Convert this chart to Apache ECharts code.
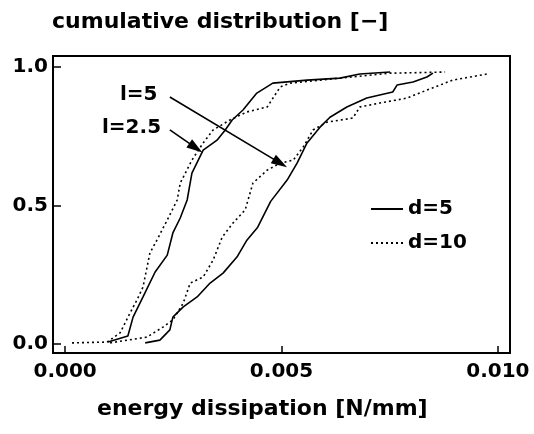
<!DOCTYPE html>
<html>
<head>
<meta charset="utf-8">
<script src="https://cdn.jsdelivr.net/npm/echarts@6/dist/echarts.min.js"></script>
<style>
  html, body { margin: 0; padding: 0; background: #fff; }
  #chart { width: 534px; height: 434px; }
</style>
</head>
<body>
<div id="chart"></div>
<script>
// cumulative distributions, [energy, fraction]
const l25_d5 = [[0.00099,0.007],[0.00145,0.029],[0.00157,0.097],[0.0018,0.170],[0.00208,0.260],[0.00236,0.321],[0.00249,0.401],[0.00266,0.455],[0.00282,0.520],[0.00293,0.617],[0.00319,0.700],[0.00351,0.736],[0.00370,0.773],[0.00386,0.809],[0.00411,0.845],[0.00443,0.906],[0.0048,0.942],[0.00559,0.953],[0.00635,0.960],[0.00681,0.975],[0.00751,0.982]]
const l25_d10 = [[0.00016,0.004],[0.00097,0.007],[0.00127,0.040],[0.0015,0.112],[0.00166,0.159],[0.0018,0.206],[0.00196,0.329],[0.00212,0.375],[0.00236,0.448],[0.00259,0.520],[0.00266,0.581],[0.00293,0.664],[0.00319,0.726],[0.00342,0.773],[0.00381,0.809],[0.0042,0.838],[0.00467,0.856],[0.00497,0.928],[0.0052,0.942],[0.00635,0.960],[0.00751,0.978],[0.00878,0.982]]
const l5_d5 = [[0.00185,0.004],[0.00219,0.014],[0.00242,0.051],[0.00249,0.097],[0.00273,0.134],[0.00305,0.170],[0.00335,0.220],[0.00365,0.256],[0.00397,0.314],[0.0042,0.375],[0.00445,0.422],[0.00475,0.515],[0.00513,0.592],[0.00536,0.653],[0.00559,0.726],[0.00589,0.783],[0.00612,0.819],[0.00651,0.856],[0.00697,0.888],[0.00757,0.910],[0.00767,0.935],[0.00804,0.946],[0.00836,0.964],[0.0085,0.978]]
const l5_d10 = [[0.00104,0.004],[0.00189,0.025],[0.00226,0.061],[0.00249,0.087],[0.00273,0.148],[0.00289,0.220],[0.00319,0.242],[0.00342,0.303],[0.00363,0.386],[0.00388,0.437],[0.00416,0.484],[0.00434,0.581],[0.00467,0.628],[0.00497,0.653],[0.00527,0.664],[0.0055,0.711],[0.00573,0.773],[0.00605,0.801],[0.00665,0.816],[0.00681,0.856],[0.00727,0.870],[0.0079,0.888],[0.00836,0.917],[0.00896,0.953],[0.00975,0.975]]

const xTicks = [0, 0.005, 0.01]
const yTicks = [0, 0.5, 1]
const legendNames = ['d=5', 'd=10']

// annotation arrows: [from, to] in data units
const arrowL5 = [[0.00242, 0.892], [0.00497, 0.653]]
const arrowL25 = [[0.00242, 0.773], [0.00302, 0.708]]

const FONT = 'DejaVu Sans'
const chart = echarts.init(document.getElementById('chart'))

const solid = { color: '#000', width: 1.6, type: 'solid' }
const dotted = { color: '#000', width: 1.6, type: [2, 3] }

function lineSeries(name, data, style) {
  return {
    name: name,
    type: 'line',
    data: data,
    symbol: 'none',
    showSymbol: false,
    lineStyle: style,
    itemStyle: { color: '#000' },
    z: 3
  }
}

const series = [
  lineSeries('d=5', l25_d5, solid),
  lineSeries('d=10', l25_d10, dotted),
  lineSeries('d=5', l5_d5, solid),
  lineSeries('d=10', l5_d10, dotted)
]
series[0].markLine = {
  silent: true,
  symbol: ['none', 'triangle'],
  symbolSize: [10, 16],
  lineStyle: { color: '#000', type: 'solid', width: 1.6 },
  label: { show: false },
  data: [
    [{ coord: arrowL5[0] }, { coord: arrowL5[1] }],
    [{ coord: arrowL25[0] }, { coord: arrowL25[1] }]
  ]
}

chart.setOption({
  animation: false,
  backgroundColor: '#fff',
  grid: {
    left: 53, right: 24, top: 56, bottom: 81,
    show: true, borderColor: '#000', borderWidth: 2
  },
  xAxis: {
    type: 'value',
    min: -0.00028,
    max: 0.01028,
    axisLine: { show: true, onZero: false, lineStyle: { color: '#000', width: 2 } },
    axisTick: { show: true, inside: true, length: 7, customValues: xTicks, lineStyle: { color: '#000', width: 1.5 } },
    axisLabel: {
      customValues: xTicks,
      formatter: v => v.toFixed(3),
      color: '#000', fontSize: 20, fontWeight: 'bold', fontFamily: FONT, margin: 9
    },
    splitLine: { show: false }
  },
  yAxis: {
    type: 'value',
    min: -0.0325,
    max: 1.04,
    axisLine: { show: true, onZero: false, lineStyle: { color: '#000', width: 2 } },
    axisTick: { show: true, inside: true, length: 8, customValues: yTicks, lineStyle: { color: '#000', width: 1.5 } },
    axisLabel: {
      customValues: yTicks,
      formatter: v => v.toFixed(1),
      color: '#000', fontSize: 20, fontWeight: 'bold', fontFamily: FONT, margin: 5
    },
    splitLine: { show: false }
  },
  legend: {
    data: legendNames,
    orient: 'vertical',
    left: 365,
    top: 194,
    itemWidth: 32,
    itemHeight: 12,
    itemGap: 14,
    itemStyle: { opacity: 0 },
    textStyle: { color: '#000', fontSize: 20, fontWeight: 'bold', fontFamily: FONT }
  },
  graphic: [
    { type: 'text', left: 52, top: 11, style: { text: 'cumulative distribution [−]', font: 'bold 22px "DejaVu Sans"', fill: '#000' } },
    { type: 'text', left: 97, top: 398, style: { text: 'energy dissipation [N/mm]', font: 'bold 22px "DejaVu Sans"', fill: '#000' } },
    { type: 'text', left: 120, top: 85, style: { text: 'l=5', font: 'bold 20px "DejaVu Sans"', fill: '#000' } },
    { type: 'text', left: 102, top: 118, style: { text: 'l=2.5', font: 'bold 20px "DejaVu Sans"', fill: '#000' } }
  ],
  series: series
})
</script>
</body>
</html>
